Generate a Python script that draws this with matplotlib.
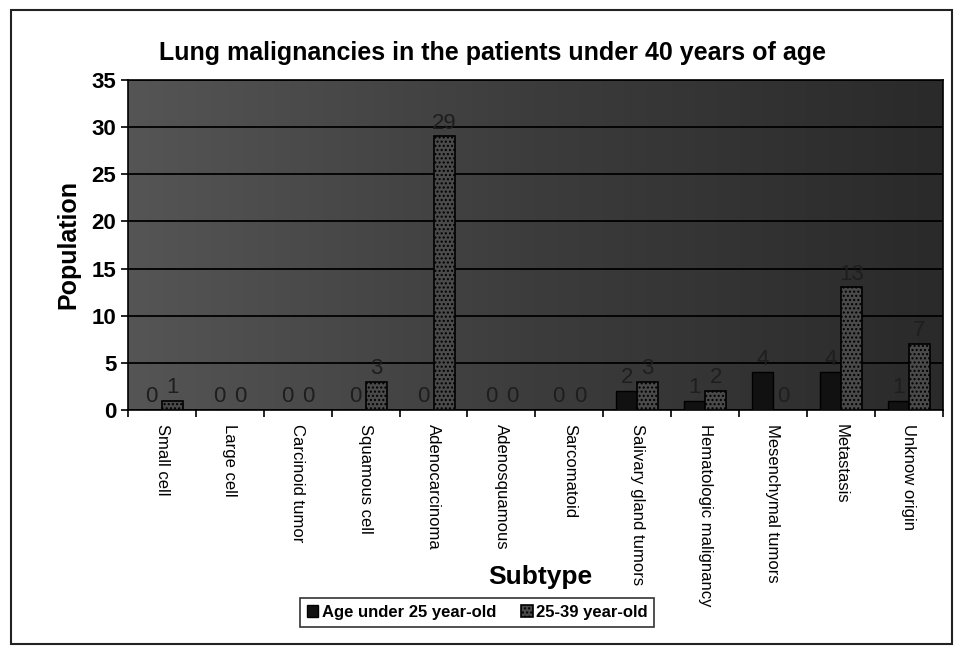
import numpy as np
import matplotlib.pyplot as plt
from matplotlib.patches import Rectangle
from matplotlib.colors import LinearSegmentedColormap

subtypes = ["Small cell", "Large cell", "Carcinoid tumor", "Squamous cell",
            "Adenocarcinoma", "Adenosquamous", "Sarcomatoid",
            "Salivary gland tumors", "Hematologic malignancy",
            "Mesenchymal tumors", "Metastasis", "Unknow origin"]
under25 = [0, 0, 0, 0, 0, 0, 0, 2, 1, 4, 4, 1]
age25_39 = [1, 0, 0, 3, 29, 0, 0, 3, 2, 0, 13, 7]
yticks = [0, 5, 10, 15, 20, 25, 30, 35]

plt.rcParams["font.family"] = ["Liberation Sans", "DejaVu Sans"]
plt.rcParams["hatch.color"] = "#2a2a2a"

fig = plt.figure(figsize=(9.56, 6.48), dpi=100)
fig.patch.set_facecolor("white")
# outer frame
fig.patches.append(Rectangle((0.011, 0.006), 0.985, 0.978, transform=fig.transFigure,
                             fill=False, ec="#222222", lw=1.5))

ax = fig.add_axes([0.134, 0.367, 0.852, 0.51])

# gradient plot background
grad = np.linspace(0, 1, 256).reshape(1, -1)
ax.imshow(grad, extent=[0, 1, 0, 1], transform=ax.transAxes, aspect="auto",
          cmap=LinearSegmentedColormap.from_list("bg", ["#555555", "#3c3c3c", "#2a2a2a"]),
          zorder=0)

x = np.arange(len(subtypes))
w = 0.31
b1 = ax.bar(x - w / 2, under25, w, color="#111111", edgecolor="black", lw=1,
            label="Age under 25 year-old", zorder=3)
b2 = ax.bar(x + w / 2, age25_39, w, color="#4a4a4a", edgecolor="black", lw=1.2,
            hatch="....", label="25-39 year-old", zorder=3)

for bars, vals in ((b1, under25), (b2, age25_39)):
    for r, v in zip(bars, vals):
        ax.text(r.get_x() + r.get_width() / 2, v + 0.3, str(v), ha="center",
                va="bottom", fontsize=16, color="#1e1e1e", zorder=4)

ax.set_xlim(-0.5, len(subtypes) - 0.5)
ax.set_ylim(0, 35)
ax.set_yticks(yticks)
ax.set_yticklabels([str(t) for t in yticks], fontsize=16, fontweight="bold")
ax.yaxis.grid(True, color="black", lw=1.3, zorder=1)
ax.set_axisbelow(False)
ax.set_xticks(np.arange(len(subtypes) + 1) - 0.5, minor=False)
ax.set_xticklabels([])
ax.set_xticks(x, minor=True)
ax.set_xticklabels(subtypes, minor=True, rotation=-90, fontsize=12,
                   va="top", ha="center")
ax.tick_params(axis="x", which="minor", length=0, pad=10)
ax.tick_params(axis="x", which="major", length=5, width=1.2)
ax.tick_params(axis="y", length=5, width=1.2)
for s in ax.spines.values():
    s.set_color("black")
    s.set_linewidth(1.2)

ax.set_ylabel("Population", fontsize=18, fontweight="bold", labelpad=8)
fig.text(0.515, 0.918, "Lung malignancies in the patients under 40 years of age",
         ha="center", va="center", fontsize=18, fontweight="bold")
fig.text(0.565, 0.11, "Subtype", ha="center", va="center", fontsize=19,
         fontweight="bold")

leg = fig.legend(loc="center", bbox_to_anchor=(0.499, 0.055), ncol=2,
                 fontsize=12, frameon=True, fancybox=False, edgecolor="black",
                 handlelength=0.7, handleheight=0.7, handletextpad=0.2,
                 columnspacing=1.5, borderpad=0.4)
leg.get_frame().set_linewidth(1.2)
for t in leg.get_texts():
    t.set_fontweight("bold")

plt.savefig("out.png", dpi=100)
